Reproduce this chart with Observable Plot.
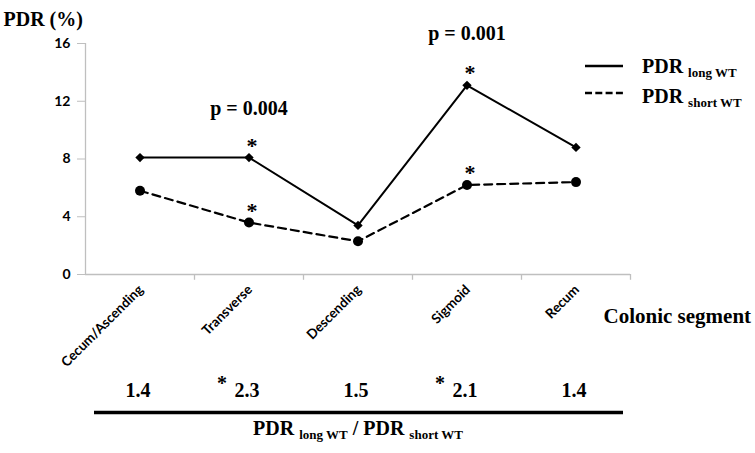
<!DOCTYPE html>
<html>
<head>
<meta charset="utf-8">
<script src="https://cdn.jsdelivr.net/npm/d3@7"></script>
<script src="https://cdn.jsdelivr.net/npm/@observablehq/plot@0.6"></script>
<style>
  body { margin: 0; background: #fff; }
  #wrap { position: relative; width: 755px; height: 453px; overflow: hidden; }
  #wrap > * { position: absolute; }
  .serif { font-family: "Liberation Serif", "Times New Roman", serif; font-weight: bold; color: #000; white-space: nowrap; line-height: 20px; }
  .big { font-size: 20px; }
  .sub { font-size: 13px; position: relative; top: 4px; }
</style>
</head>
<body>
<div id="wrap"></div>
<script>
// ---- data ----
const segments = ["Cecum/Ascending", "Transverse", "Descending", "Sigmoid", "Recum"];
const pdrLong = [8.1, 8.1, 3.4, 13.1, 8.8];
const pdrShort = [5.8, 3.6, 2.3, 6.2, 6.4];
const ratios = ["1.4", "2.3", "1.5", "2.1", "1.4"];
const ratioSig = [false, true, false, true, false];
const starSegments = ["Transverse", "Transverse", "Sigmoid", "Sigmoid"];
const starValues = [8.1, 3.6, 13.1, 6.2];
const pLabels = ["p = 0.004", "p = 0.001"];
const pSegments = ["Transverse", "Sigmoid"];
const pValues = [11.5, 16.7];
const yTicks = [0, 4, 8, 12, 16];

const longData = segments.map((s, i) => ({seg: s, v: pdrLong[i]}));
const shortData = segments.map((s, i) => ({seg: s, v: pdrShort[i]}));
const stars = starSegments.map((s, i) => ({seg: s, v: starValues[i]}));
const pData = pLabels.map((t, i) => ({t, seg: pSegments[i], v: pValues[i]}));
const ratioData = segments.map((s, i) => ({seg: s, r: ratios[i], sig: ratioSig[i]}));

const serif = "'Liberation Serif', 'Times New Roman', serif";
const sans = "Lato, 'Open Sans', sans-serif";
const grey = "#bfbfbf";

const main = Plot.plot({
  width: 755, height: 453,
  marginLeft: 85, marginRight: 125, marginTop: 43, marginBottom: 179,
  x: {type: "band", domain: segments, padding: 0, axis: null},
  y: {domain: [0, 16], axis: null},
  marks: [
    Plot.axisY({ticks: yTicks, tickSize: 8, tickPadding: 7, stroke: grey, fill: "black",
      fontSize: 14, fontWeight: "bold", fontFamily: sans, label: null}),
    Plot.ruleY([0], {stroke: grey, strokeWidth: 1.3}),
    Plot.ruleX([segments[0]], {dx: -54.5, stroke: grey, strokeWidth: 1.3}),
    Plot.ruleX(segments, {x: d => d, dx: 54.5, y1: 0, y2: -0.4, stroke: grey, strokeWidth: 1.3}),
    Plot.text(segments, {x: d => d, frameAnchor: "bottom", rotate: -45, textAnchor: "end",
      dx: 4, dy: 16, fontSize: 13.5, fontWeight: "bold", fontFamily: sans}),
    Plot.line(longData, {x: "seg", y: "v", stroke: "black", strokeWidth: 2}),
    Plot.line(shortData, {x: "seg", y: "v", stroke: "black", strokeWidth: 2.2, strokeDasharray: "8,5"}),
    Plot.dot(longData, {x: "seg", y: "v", symbol: "diamond2", r: 4.2, fill: "black"}),
    Plot.dot(shortData, {x: "seg", y: "v", symbol: "circle", r: 5, fill: "black"}),
    Plot.text(stars, {x: "seg", y: "v", text: () => "*", dy: -12, dx: 3, fontSize: 22, fontWeight: "bold", fontFamily: serif}),
    Plot.text(pData, {x: "seg", y: "v", text: "t", dx: 0, fontSize: 20, fontWeight: "bold", fontFamily: serif}),
    Plot.text(["PDR (%)"], {frameAnchor: "top-left", textAnchor: "start", dx: -82, dy: -32,
      fontSize: 20, fontWeight: "bold", fontFamily: serif}),
    Plot.text(["Colonic segment"], {frameAnchor: "bottom-right", textAnchor: "start", dx: -27, dy: 48,
      fontSize: 21, fontWeight: "bold", fontFamily: serif}),
    Plot.text(ratioData, {x: "seg", text: "r", frameAnchor: "bottom", dy: 122, dx: -2,
      fontSize: 20, fontWeight: "bold", fontFamily: serif}),
    Plot.text(ratioData.filter(d => d.sig), {x: "seg", text: () => "*", frameAnchor: "bottom", dx: -27, dy: 115,
      fontSize: 20, fontWeight: "bold", fontFamily: serif}),
    Plot.ruleY([0], {dy: 138, strokeWidth: 3.5, stroke: "black", insetLeft: 9, insetRight: 7})
  ]
});
// make font-family attributes effective as styles
d3.select(main).selectAll("[font-family]").each(function () {
  this.style.fontFamily = this.getAttribute("font-family");
});
main.style.left = "0px"; main.style.top = "0px";

const wrap = document.getElementById("wrap");
wrap.appendChild(main);

// legend
function legendItem(lineY, textTop, dashed, subText) {
  const s = document.createElementNS("http://www.w3.org/2000/svg", "svg");
  s.setAttribute("width", 40); s.setAttribute("height", 6);
  s.style.left = "584px"; s.style.top = (lineY - 3) + "px";
  s.innerHTML = `<line x1="1" x2="39" y1="3" y2="3" stroke="black" stroke-width="2.4" ${dashed ? 'stroke-dasharray="7,3.3"' : ''}/>`;
  wrap.appendChild(s);
  const t = document.createElement("div");
  t.className = "serif big";
  t.style.left = "642px"; t.style.top = textTop + "px";
  t.innerHTML = `PDR <span class="sub">${subText}</span>`;
  wrap.appendChild(t);
}
legendItem(66, 56, false, "long WT");
legendItem(93, 86, true, "short WT");

const bottom = document.createElement("div");
bottom.className = "serif big";
bottom.style.left = "0px"; bottom.style.width = "716px"; bottom.style.textAlign = "center";
bottom.style.top = "418px";
bottom.innerHTML = `PDR <span class="sub">long WT</span> / PDR <span class="sub">short WT</span>`;
wrap.appendChild(bottom);
</script>
</body>
</html>
